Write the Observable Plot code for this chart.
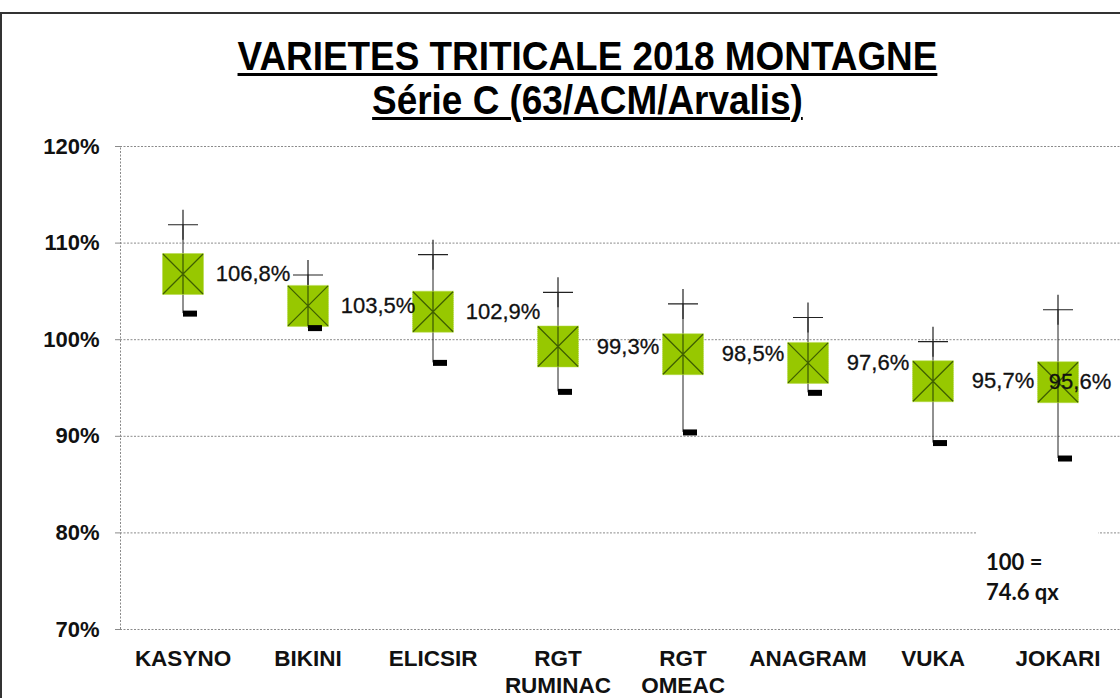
<!DOCTYPE html>
<html>
<head>
<meta charset="utf-8">
<script src="https://cdn.jsdelivr.net/npm/d3@7"></script>
<script src="https://cdn.jsdelivr.net/npm/@observablehq/plot@0.6"></script>
<style>
  body { margin: 0; background: #fff; font-family: "Liberation Sans", Arial, sans-serif; }
  #wrap { position: relative; width: 1120px; height: 698px; overflow: hidden; background: #fff; }
  #chart { position: absolute; left: 0; top: 0; }
  #frame { position: absolute; left: 0; top: 12px; width: 1300px; height: 900px; border-left: 2px solid #333; border-top: 2px solid #333; }
  .ttl { position: absolute; left: 0; width: 1175px; text-align: center; font-weight: bold; color: #000;
         font-size: 41px; line-height: 41px; text-decoration: underline; text-decoration-thickness: 3px; text-underline-offset: 3px;
         transform: scaleX(0.9); transform-origin: 587px 0; }
  #note { position: absolute; left: 977px; top: 524px; width: 121px; height: 92px; background: #fff; }
  .nt { position: absolute; left: 986px; font-family: Lato, "Open Sans", sans-serif; font-weight: bold; font-size: 22px; line-height: 22px; color: #111; }
</style>
</head>
<body>
<div id="wrap">
  <div id="chart"></div>
  <div id="frame"></div>
  <div class="ttl" id="t1" style="top:36px">VARIETES TRITICALE 2018 MONTAGNE</div>
  <div class="ttl" id="t2" style="top:80px">Série C (63/ACM/Arvalis)</div>
  <div id="note"></div>
  <div class="nt" style="top:551px">100 =</div>
  <div class="nt" style="top:581px">74.6 qx</div>
</div>
<script>
const varieties = ["KASYNO", "BIKINI", "ELICSIR", "RGT\nRUMINAC", "RGT\nOMEAC", "ANAGRAM", "VUKA", "JOKARI"];
const maxVals  = [111.9, 106.7, 108.8, 104.9, 103.7, 102.3, 99.8, 103.1];
const meanVals = [106.8, 103.5, 102.9, 99.3, 98.5, 97.6, 95.7, 95.6];
const minVals  = [102.7, 101.2, 97.6, 94.6, 90.4, 94.5, 89.3, 87.7];
const yTicks = [70, 80, 90, 100, 110, 120];

const data = varieties.map((v, i) => ({name: v, max: maxVals[i], mean: meanVals[i], min: minVals[i]}));
const fmt = d => d.mean.toFixed(1).replace(".", ",") + "%";

const plusSym = {draw(ctx) { const r = 15; ctx.moveTo(-r, 0); ctx.lineTo(r, 0); ctx.moveTo(0, -r); ctx.lineTo(0, r); }};
const boxSym = {draw(ctx) { ctx.rect(-20.5, -20.5, 41, 41); }};
const crossSym = {draw(ctx) { const r = 20; ctx.moveTo(-r, -r); ctx.lineTo(r, r); ctx.moveTo(r, -r); ctx.lineTo(-r, r); ctx.moveTo(0, -r); ctx.lineTo(0, r); }};
const dashSym = {draw(ctx) { ctx.rect(0, -3, 14, 6); }};

const last = varieties[varieties.length - 1];

const chart = Plot.plot({
  width: 1120, height: 698,
  marginTop: 146, marginBottom: 69, marginLeft: 120, marginRight: 0,
  style: {fontFamily: "'Liberation Sans', Arial, sans-serif", background: "transparent", overflow: "visible"},
  x: {type: "band", domain: varieties, padding: 0, axis: null},
  y: {domain: [70, 120], axis: null},
  marks: [
    Plot.ruleY(yTicks, {stroke: "#8a8a8a", strokeWidth: 1, strokeDasharray: "2,1.5"}),
    Plot.ruleX([varieties[0]], {x: d => d, dx: -62.5, stroke: "#8a8a8a", strokeDasharray: "2,1.5", y1: 70, y2: 120}),
    Plot.axisY({ticks: yTicks, tickFormat: d => d + "%", tickSize: 5, tickPadding: 16, fontSize: 22, fontWeight: "bold", stroke: "#8a8a8a", color: "#111", label: null}),
    Plot.axisX({tickSize: 0, tickPadding: 18, fontSize: 22.5, fontWeight: "bold", lineHeight: 1.18, color: "#111", label: null}),
    Plot.ruleX(data, {x: "name", y1: "max", y2: "min", stroke: "#222", strokeWidth: 1}),
    Plot.dot(data, {x: "name", y: "max", symbol: plusSym, stroke: "#222", strokeWidth: 1.2, fill: "none"}),
    Plot.dot(data, {x: "name", y: "mean", symbol: boxSym, fill: "#97c800", stroke: "#b4d94a", strokeWidth: 1, strokeDasharray: "1,1"}),
    Plot.dot(data, {x: "name", y: "mean", symbol: crossSym, fill: "none", stroke: "#3f5f00", strokeWidth: 1.3}),
    Plot.dot(data, {x: "name", y: "min", symbol: dashSym, fill: "#000", stroke: "none"}),
    Plot.text(data.filter(d => d.name !== last), {x: "name", y: "mean", text: fmt, dx: 70, fontSize: 22, fill: "#111", stroke: "#111", strokeWidth: 0.3}),
    Plot.text(data.filter(d => d.name === last), {x: "name", y: "mean", text: fmt, dx: 22, fontSize: 22, fill: "#111", stroke: "#111", strokeWidth: 0.3})
  ]
});
document.getElementById("chart").appendChild(chart);
</script>
</body>
</html>
